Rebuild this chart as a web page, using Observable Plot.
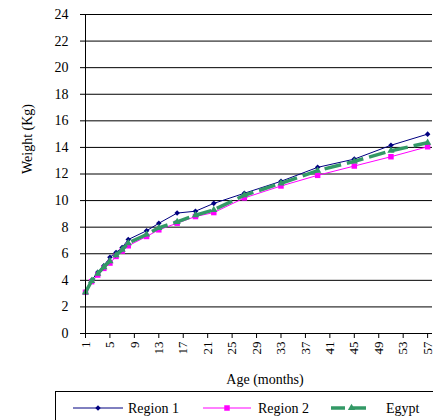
<!DOCTYPE html>
<html><head><meta charset="utf-8">
<script src="https://cdn.jsdelivr.net/npm/d3@7"></script>
<script src="https://cdn.jsdelivr.net/npm/@observablehq/plot@0.6"></script>
<style>
body{margin:0;background:#fff;font-family:"Liberation Serif","Times New Roman",serif;}
#wrap{position:relative;width:433px;height:420px;overflow:hidden;background:#fff;}
#legend{position:absolute;left:55px;top:391px;}
svg text{font-family:"Liberation Serif","Times New Roman",serif;}
</style></head><body><div id="wrap"><div id="chart"></div><svg id="legend" width="390" height="40"></svg></div>
<script>
const ages = [1,2,3,4,5,6,7,8,11,13,16,19,22,27,33,39,45,51,57];
const region1 = [3.1,4.0,4.6,5.1,5.73,6.1,6.47,7.07,7.73,8.29,9.06,9.2,9.79,10.55,11.45,12.5,13.12,14.16,15.0];
const region2 = [3.1,3.9,4.4,4.9,5.3,5.8,6.2,6.6,7.3,7.8,8.3,8.8,9.1,10.2,11.1,11.9,12.6,13.3,14.05];
const egypt   = [3.1,3.95,4.5,5.0,5.45,5.9,6.3,6.8,7.45,7.95,8.4,8.9,9.3,10.4,11.3,12.25,12.95,13.75,14.35];
const seriesNames = ["Region 1","Region 2","Egypt"];
const xTicks = [1,5,9,13,17,21,25,29,33,37,41,45,49,53,57];
const yTicks = [0,2,4,6,8,10,12,14,16,18,20,22,24];
const xLabel = "Age (months)";
const yLabel = "Weight (Kg)";

const FONT = '"Liberation Serif", "Times New Roman", serif';
const colors = {"Region 1":"#000080","Region 2":"#ff00ff","Egypt":"#339966"};
const symbols = {"Region 1":"diamond2","Region 2":"square","Egypt":"triangle"};
const radii = {"Region 1":2.5,"Region 2":3.1,"Egypt":2.7};
const seriesValues = {"Region 1":region1,"Region 2":region2,"Egypt":egypt};
const rows = seriesNames.flatMap(s => ages.map((a,i) => ({series:s, age:a, weight:seriesValues[s][i]})));

const lineMarks = seriesNames.map(s => {
  const d = rows.filter(r => r.series === s);
  return s === "Egypt"
    ? Plot.line(d, {x:"age", y:"weight", stroke:colors[s], strokeWidth:3.5, strokeDasharray:"17,6", strokeLinecap:"butt"})
    : Plot.line(d, {x:"age", y:"weight", stroke:colors[s], strokeWidth:1});
});
const dotMarks = seriesNames.map(s => Plot.dot(rows.filter(r => r.series === s),
  {x:"age", y:"weight", symbol:symbols[s], r:radii[s], fill:colors[s], stroke:"none"}));

const chart = Plot.plot({
  width:433, height:390,
  marginLeft:85, marginRight:1, marginTop:14, marginBottom:57,
  style:{fontFamily:FONT, fontSize:"14px", color:"#000", background:"#fff"},
  x:{domain:[1,57.8]},
  y:{domain:[0,24]},
  marks:[
    Plot.ruleY(yTicks.filter(d => d > 0), {stroke:"#000", strokeWidth:1}),
    ...seriesNames.flatMap((s,i) => [lineMarks[i], dotMarks[i]]),
    Plot.ruleX([1], {stroke:"#000", strokeWidth:1}),
    Plot.ruleY([0], {stroke:"#000", strokeWidth:1}),
    Plot.axisY({ticks:yTicks, tickSize:5, tickPadding:12, label:null, fontSize:14}),
    Plot.axisX({ticks:xTicks, tickSize:5, tickPadding:3, tickRotate:-90, label:null, fontSize:13}),
    Plot.text([xLabel], {frameAnchor:"bottom", dy:50, dx:6, fontSize:14}),
    Plot.text([yLabel], {frameAnchor:"left", dx:-58, rotate:-90, fontSize:14})
  ]
});
document.getElementById("chart").appendChild(chart);

// legend
const lg = d3.select("#legend");
lg.append("rect").attr("x",0.5).attr("y",0.5).attr("width",400).attr("height",60).attr("fill","#fff").attr("stroke","#000");
const items = [
  {name:"Region 1", x0:18, x1:68, tx:73},
  {name:"Region 2", x0:148, x1:196, tx:203},
  {name:"Egypt", x0:276, x1:317, tx:331}
];
const sym = {"diamond2":d3.symbolDiamond2,"square":d3.symbolSquare,"triangle":d3.symbolTriangle};
items.forEach(it => {
  const s = it.name, y = 17;
  const ln = lg.append("line").attr("x1",it.x0).attr("x2",it.x1).attr("y1",y).attr("y2",y).attr("stroke",colors[s])
    .attr("stroke-width", s === "Egypt" ? 3.5 : 1);
  if (s === "Egypt") ln.attr("stroke-dasharray","14,7");
  const r = radii[s];
  lg.append("path").attr("d", d3.symbol(sym[symbols[s]], Math.PI*r*r)()).attr("transform",`translate(${(it.x0+it.x1)/2},${y})`).attr("fill",colors[s]);
  lg.append("text").attr("x",it.tx).attr("y",y).attr("dy","0.35em").style("font-size","14px").style("font-family",FONT).text(s);
});
</script></body></html>
